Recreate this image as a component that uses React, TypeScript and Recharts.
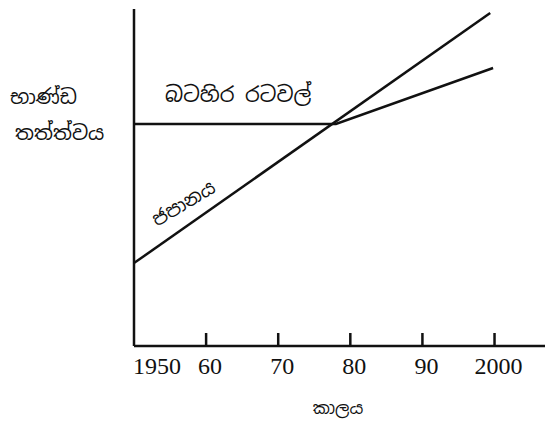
import React from "react";
import { LineChart, Line, XAxis, YAxis, Customized } from "recharts";

// years shown on the axis and their printed labels
const tickYears = [1950, 1960, 1970, 1980, 1990, 2000];
const tickLabels = ["1950", "60", "70", "80", "90", "2000"];

// Japan: straight rise across the period
const japanYears = [1950, 1999.4];
const japanValues = [24.6, 98.8];

// Western countries: flat until ~1978, then slower rise
const westYears = [1950, 1978, 1999.8];
const westValues = [65.9, 65.9, 82.5];

const japanData = japanYears.map((year, i) => ({ year, value: japanValues[i] }));
const westData = westYears.map((year, i) => ({ year, value: westValues[i] }));

const sinhalaFont = "'Noto Sans Sinhala', 'Iskoola Pota', 'Noto Sans', sans-serif";
const numFont = "'Liberation Serif', 'Times New Roman', serif";

const YearTick = (props: any) => {
  const { x, y, payload } = props;
  const idx = tickYears.indexOf(payload.value);
  const first = idx === 0;
  return (
    <g>
      {!first && <line x1={x} x2={x} y1={y - 13} y2={y} stroke="#111" strokeWidth={2.5} />}
      <text
        x={first ? x - 1 : x + 4}
        y={y + 28}
        textAnchor={first ? "start" : "middle"}
        fontFamily={numFont}
        fontSize={24}
        fill="#111"
      >
        {tickLabels[idx]}
      </text>
    </g>
  );
};

const Annotations = () => (
  <g fill="#111" fontFamily={sinhalaFont}>
    <text x={10} y={104} fontSize={20}>භාණ්ඩ</text>
    <text x={15} y={140} fontSize={20}>තත්ත්වය</text>
    <text x={165} y={102} fontSize={21}>බටහිර රටවල්</text>
    <text x={187} y={209} fontSize={19} textAnchor="middle" transform="rotate(-31 187 209)">
      ජපානය
    </text>
    <text x={338} y={414} fontSize={17} textAnchor="middle">කාලය</text>
  </g>
);

export default function App() {
  return (
    <div style={{ position: "absolute", left: 0, top: 0, width: 545, height: 423, background: "#fff" }}>
      <LineChart width={545} height={423} margin={{ top: 9, right: 0, bottom: 0, left: 133 }}>
        <XAxis
          dataKey="year"
          type="number"
          domain={[1950, 2007]}
          ticks={tickYears}
          allowDataOverflow
          height={77}
          tickSize={0}
          tickMargin={0}
          tickLine={false}
          tick={<YearTick />}
          axisLine={{ stroke: "#111", strokeWidth: 2.5 }}
        />
        <YAxis
          type="number"
          domain={[0, 100]}
          width={1}
          tick={false}
          tickLine={false}
          axisLine={{ stroke: "#111", strokeWidth: 2.5 }}
        />
        <Line
          data={westData}
          dataKey="value"
          type="linear"
          stroke="#111"
          strokeWidth={2.5}
          dot={false}
          isAnimationActive={false}
        />
        <Line
          data={japanData}
          dataKey="value"
          type="linear"
          stroke="#111"
          strokeWidth={2.5}
          dot={false}
          isAnimationActive={false}
        />
        <Customized component={<Annotations />} />
      </LineChart>
    </div>
  );
}
